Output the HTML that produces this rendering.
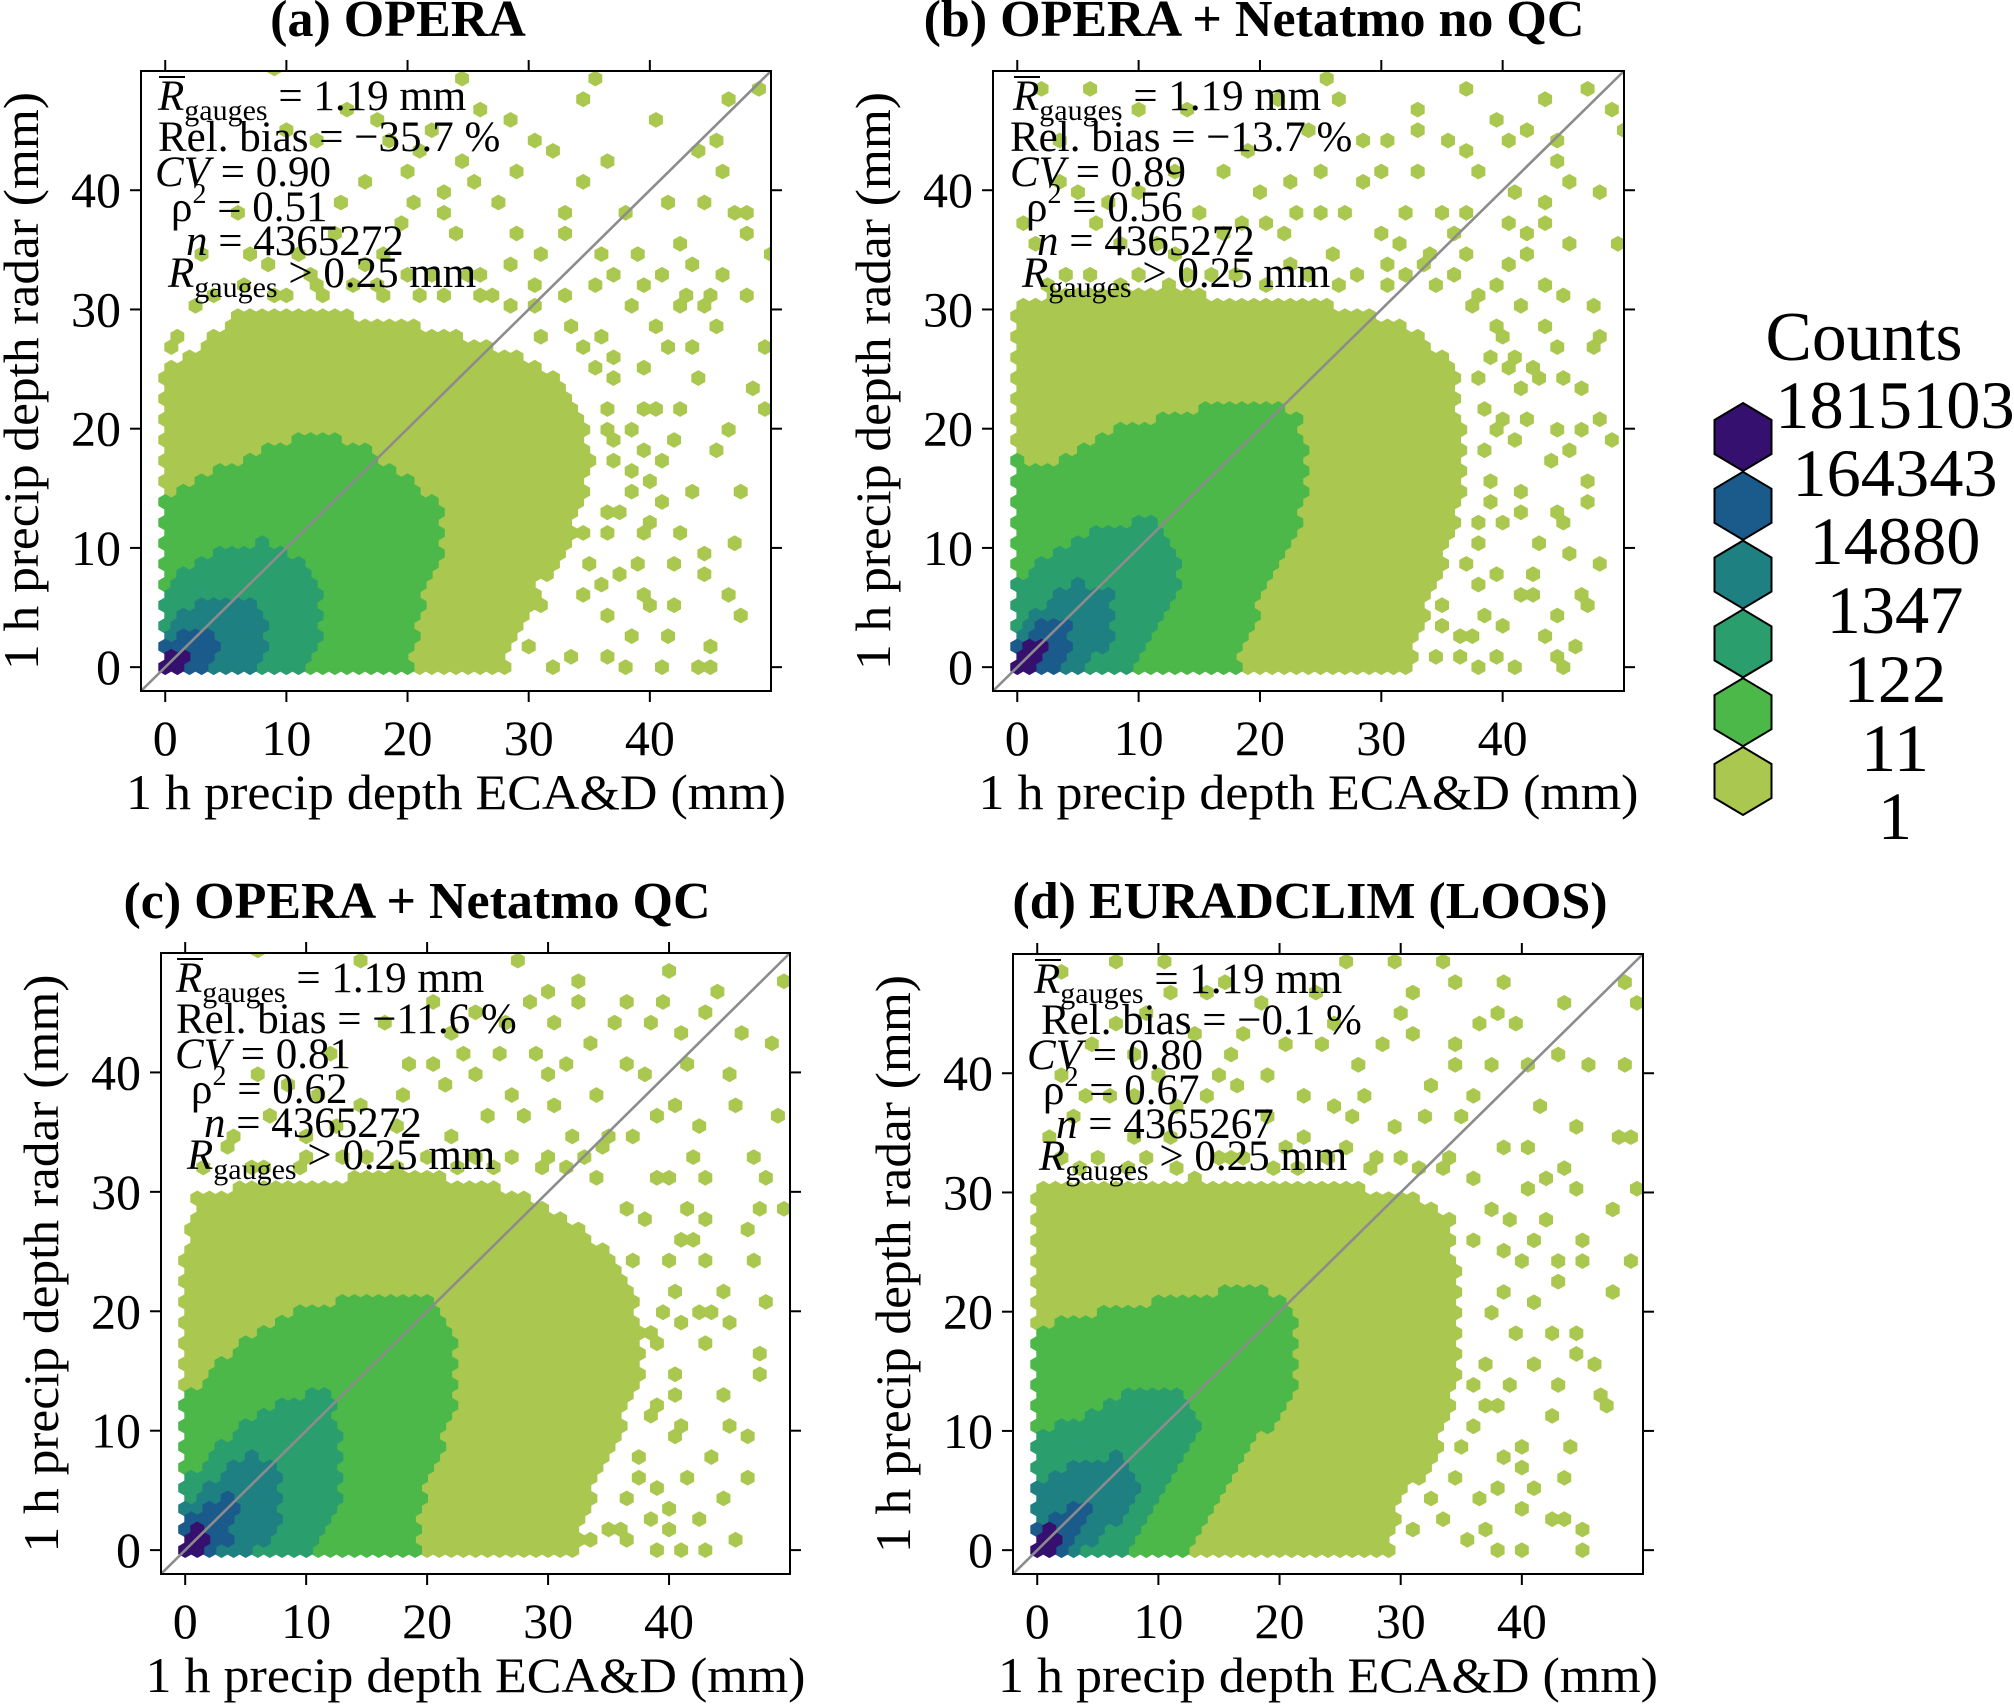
<!DOCTYPE html>
<html><head><meta charset="utf-8"><style>
html,body{margin:0;padding:0;background:#fff;}
svg{display:block;font-family:"Liberation Serif",serif;}
</style></head><body>
<svg id="fig" width="2014" height="1704" viewBox="0 0 2014 1704" xmlns="http://www.w3.org/2000/svg"></svg>
<script>
// ---------- data ----------
const xTicks=[0,10,20,30,40];
const yTicks=[0,10,20,30,40];
const levelColors=['#aac84f','#4cb84a','#2b9e6e','#1f8082','#1a5b8b','#35106e'];
const legendLabels=['1815103','164343','14880','1347','122','11','1'];

const titles=['(a) OPERA','(b) OPERA + Netatmo no QC','(c) OPERA + Netatmo QC','(d) EURADCLIM (LOOS)'];
const biasVals=['\u221235.7','\u221213.7','\u221211.6','\u22120.1'];
const cvVals=['0.90','0.89','0.81','0.80'];
const rhoVals=['0.51','0.56','0.62','0.67'];
const nVals=['4365272','4365272','4365272','4365267'];

// density level regions (data units), level 1..6
const regionsA=[
 [[-0.5,-0.5],[-0.5,25],[3,27],[6,30],[12,30],[18,29],[24,28],[29,26],[33,24],[35,20],[35,15],[33,10],[31,7],[29,3],[28,-0.5]],
 [[-0.5,-0.5],[-0.5,14],[3,16],[8,18],[13,20],[17,18],[21,15],[23,13],[23,10],[21,5],[20,-0.5]],
 [[-0.5,-0.5],[-0.5,6],[2,8.5],[5,10],[8,10.5],[11,9],[13,6],[13,3],[11.5,-0.5]],
 [[-0.5,-0.5],[-0.5,3],[2,5],[5,6.2],[8,5],[8.5,2],[7,-0.5]],
 [[-0.5,-0.5],[-0.5,1.5],[1.5,3],[4,2.5],[4.5,0.5],[3.5,-0.5]],
 [[-0.5,-0.5],[-0.5,1],[1.5,1],[1.8,-0.5]]
];
const regionsB=[
 [[-0.5,-0.5],[-0.5,31],[8,31.5],[20,31],[28,30],[33,28],[36,25],[37,15],[35,8],[33,3],[33,-0.5]],
 [[-0.5,-0.5],[-0.5,17.5],[3,17],[7,19.5],[14,21.5],[20,22.5],[23,21],[24,17],[23,12],[21,8],[19,3],[18,-0.5]],
 [[-0.5,-0.5],[-0.5,7],[3,9.5],[6,11.5],[11,12.5],[13,10],[13.5,6],[11,2],[9.5,-0.5]],
 [[-0.5,-0.5],[-0.5,3],[2,5],[5,7.3],[7.8,6],[7.5,2],[5,-0.5]],
 [[-0.5,-0.5],[-0.5,1.5],[2,3.8],[4.5,3.5],[4,0.5],[2.5,-0.5]],
 [[-0.5,-0.5],[-0.5,0.8],[1,1.8],[2.2,1.8],[1.8,-0.5]]
];
const regionsC=[
 [[-0.5,-0.5],[-0.5,22],[1,30],[10,31],[20,31.5],[28,30],[33,27],[37,22],[38,15],[35,8],[33,3],[33,-0.5]],
 [[-0.5,-0.5],[-0.5,12],[3,16],[8,19.5],[13,21],[20,21.5],[22,18],[22.5,12],[20,6],[19,-0.5]],
 [[-0.5,-0.5],[-0.5,5],[3,9],[7,12],[11.5,13.3],[13,10],[13,5],[11,1],[10,-0.5]],
 [[-0.5,-0.5],[-0.5,3],[2.5,6],[6,8.2],[7.8,6],[7.5,2],[5.5,-0.5]],
 [[-0.5,-0.5],[-0.5,2],[1.5,3.5],[3.5,4.4],[4.3,3],[3.5,0.5],[2.5,-0.5]],
 [[-0.5,-0.5],[-0.5,0.8],[1.2,2.2],[2.2,1.5],[1.5,-0.5]]
];
const regionsD=[
 [[-0.5,-0.5],[-0.5,31],[10,31],[20,31],[30,30],[34,28],[35,22],[35,15],[33,8],[30,4],[29,-0.5]],
 [[-0.5,-0.5],[-0.5,18.5],[4,19.7],[10,21],[18,22],[21.5,20],[21.5,13],[18,9],[15,4],[12.5,-0.5]],
 [[-0.5,-0.5],[-0.5,9],[3,11],[8,13.3],[12,13.3],[13.5,10.5],[12,7],[9,3],[7,-0.5]],
 [[-0.5,-0.5],[-0.5,5],[3,7],[7,8.2],[8.5,6],[7,3],[5,1],[3,-0.5]],
 [[-0.5,-0.5],[-0.5,1.5],[1.5,3],[4,4.6],[5,3.7],[3,1],[2,-0.5]],
 [[-0.5,-0.5],[-0.5,0.5],[0.8,2],[2,2],[1.5,0.5],[1,-0.5]]
];

// sparse single-count cells (x, y) in mm
const sparseA=[[24.5,49.4],[34.5,47.6],[35.4,49.4],[40.4,46],[46.3,47.6],[48.9,48.5],[45.5,44.2],[45.9,41.6],[47.8,38],[47.8,36.4],[49.7,34.6],[43.6,34],[45,31],[45.9,29],[49.5,27.2],[48.2,23.4],[49.7,21.8],[46.9,20],[47.6,14.7],[47.2,10.2],[44.6,9.3],[44.6,7.7],[46.3,6.1],[47.6,4.3],[45,1.7],[43.8,0],[45,0],[40,5.2],[38.9,8.8],[41.3,13.8],[42.5,11],[38.3,0],[41.1,0],[36.2,1],[37.5,7.7],[36.2,11],[38.7,16.5],[37,26.3],[39.6,31.7],[42.5,31.3],[30.3,44.3],[28.2,46],[24.6,42.5],[22.7,39.8],[20.2,41.6],[18.5,43.8],[16,41.1],[12.9,43.8],[9.2,49.9],[32.6,38],[34.5,41.1],[36.2,42.5],[38.3,38],[42.1,35.7],[41.3,38.9],[35.8,34.8],[44.6,38.9],[12,33],[16,34],[20,33],[25,33],[28,34],[24,36],[19,37],[14,36.5],[27,39],[31,35],[22,45],[26,47],[15,47],[10,45],[6,38],[3,35],[8,33.5],[33,31],[30,32],[38,20],[40,22],[42,19],[39,25],[41,27],[44,24],[43,15],[40,12],[37,13],[45,18],[36,28],[38,30],[41,33],[4,31],[1,28],[9,31.5],[15,32],[21,31.5],
 [30,2],[31,5],[32,0],[33,1],[30,7],[34,6],[32,9],[36,4],[35,17],[36,20],[37,24],[34,27],[31,28],[28,30],[27,31],[23,31],[18,31],[12,32],[6,32],[2,30],[0,27],[37,17],[39,18],[36,22],[38,15],[40,16],[42,22],[43,27],[44,30],[46,33],[48,31],[47,38],[44,43],[26,31],[30,30],[33,29],[35,25],[36,13],[34,11],[35,9],[39,6],[41,3],[42,9],
 [10,31],[13,31],[17,32],[22,33],[26,33],[29,36],[23,38],[18,35],[11,35],[7,35],[14,39],[20,39],[25,41],[29,42],[32,43],[21,43],[17,46],[33,36],[35,32],[37,33],[39,35],[40,29],[42,30],[39,22],[41,17],[37,19],[39,11],[38,3],[42,5],[36,7]];
const sparseB=[[36.9,48.6],[47,48.6],[49,46.9],[43.5,47.9],[33,46.9],[39.6,46],[42,45.2],[49.7,45.2],[44.3,42.6],[45.7,40.7],[48.4,39.5],[40.6,37.4],[43.6,37.4],[45.3,35.9],[49.4,35.5],[36.9,35],[42,34.7],[39.3,32.4],[45,31.2],[47.7,30.2],[43.6,28.8],[39.6,28.8],[47,26.9],[48.4,27.8],[41.3,26.1],[43.3,24],[46,23],[47.7,20.9],[49.4,19.2],[45.7,18.3],[40.6,19.2],[43.6,17.1],[47,15.7],[47,14],[44.3,12.6],[41.3,13],[45.7,9.5],[39.6,7.8],[37.9,6.8],[41.6,6.1],[42.6,6.1],[46.4,6.1],[44.7,4.4],[40,3.3],[43.6,2.7],[36.6,1],[38.2,0],[41,0],[44.7,1],[45,0],[36.9,2.7],[34.9,3.7],[29.8,5],[32.2,6.8],[26.4,47.7],[25.4,49.5],[21.4,47.7],[17.3,41.7],[22.7,41],[24.7,41.7],[20,40.2],[28.1,40.9],[29.5,41.2],[27.1,37.8],[29.5,36.7],[31.5,35.7],[33.2,41.5],[35.2,38.5],[38.2,41.2],[34.5,32.3],[23.4,38.5],[20.7,37.1],[18.3,37.1],[16.6,36.4],[12.9,34.3],[11.2,35.4],[6.5,37.1],[8.5,35.4],[0,37.1],[1.4,35.4],[2.4,48.1],[3.4,44.6],[6.1,48.1],[9.5,46.4],[13.6,47],[16.6,41.5],[38,22],[39,26],[38,12],[39,16],[37,30],[24,33],[28,33],[14,33],[4,33],
 [37,3],[38,4],[39,1],[37,9],[38,10],[39,8],[40,12],[41,15],[39,14],[38,18],[40,21],[41,23],[42,25],[40,28],[38,24],[39,29],[41,30],[43,32],[44,27],[45,24],[46,20],[44,20],[43,10],[42,8],[45,12],[46,2],[47,5],[48,9],[35,5],[34,1],[36,33],[33,34],[30,34],[26,35],[18,33],[10,33],[2,32],[5,40],[10,40],[13,42],[30,44],[33,45],[37,43],[40,44],[44,44],
 [6,33],[8,32],[12,32],[16,33],[20,32],[22,34],[26,32],[30,32],[32,33],[34,35],[36,36],[37,38],[32,38],[25,38],[22,36],[15,38],[7,39],[3,41],[19,43],[24,45],[28,44],[35,44],[41,40],[43,39],[42,36],[40,34],[38,31],[40,25],[42,21],[39,20]];
const sparseC=[[32.5,47.7],[40,48.5],[49.4,47.7],[44,46.8],[39.5,45.9],[38.4,44.2],[41,43.4],[46,43.4],[48.4,42.5],[35.4,44.4],[33.5,42.5],[30.5,44.2],[29.8,46.8],[27.5,49.4],[26.1,41.6],[28.5,41.6],[31.9,40.8],[37.9,39.9],[41.7,40.8],[44.7,39.8],[49.1,36.3],[45,37.4],[42.3,35.3],[46.7,32.9],[48.1,31.2],[47.7,28.8],[43,28.1],[46.4,26.7],[49.1,28.8],[42.7,24.3],[46.7,24.3],[47.7,21.2],[45,19.1],[42,19.8],[43,17.4],[47.4,16.4],[47.4,14.7],[40.6,14.3],[37.9,14.7],[45,10.5],[46.4,9.5],[40,9.9],[37.3,6.1],[41,6.1],[46.4,6.1],[44.4,4.4],[40.3,3.3],[45,0.9],[41,0],[38.6,0],[35.6,1.3],[33.5,0.6],[43.3,0],[5.8,50],[14.3,49.4],[18.3,40.8],[20.4,40.8],[22.4,42.9],[23.1,41.5],[21.4,39.1],[25.1,36.5],[27.1,38.4],[30.2,37],[31.9,34.3],[34.6,33.6],[37.3,34.3],[38.6,36.3],[17.7,35.6],[14.9,37],[12.3,35.3],[9.9,34.6],[7.2,36.3],[4.2,34.6],[1.5,32.2],[28.5,46.3],[26.8,44.6],[32.5,45.6],[39,20],[40,24],[38,28],[39,12],[24,33],[20,33],[30,33],[10,33],
 [38,3],[39,5],[37,8],[38,11],[40,13],[39,17],[41,19],[40,22],[42,26],[41,29],[39,31],[43,31],[44,22],[44,13],[43,8],[42,3],[36,4],[35,2],[38,18],[37,24],[36,29],[34,31],[31,32],[27,33],[22,32],[15,33],[6,32],[3,34],[8,39],[12,42],[16,44],[20,46],[24,45],[36,46],[43,45],
 [5,32],[9,32],[13,33],[17,32],[25,32],[29,32],[33,33],[35,35],[28,36],[22,35],[18,38],[11,38],[6,40],[24,40],[30,40],[34,38],[36,41],[40,37],[42,33],[40,31],[41,26],[43,20],[41,10],[36,1],[40,2]];
const sparseD=[[6.6,49.3],[10.3,49.3],[2.2,48.6],[25.5,49.3],[29.6,49.3],[33,49.3],[34.3,47.6],[38.3,47.6],[48.5,47.6],[43.8,45.9],[49.5,45.9],[30.9,46.9],[38,45.2],[34.6,42.5],[36.7,44.2],[40.4,40.8],[42.7,41.4],[45.4,40.8],[48.5,40.8],[44.4,35.6],[47.5,34.9],[49.2,34.9],[40.7,33.6],[43.7,32.2],[49.5,30.5],[47.5,28.7],[44.4,30.5],[41.4,26],[44.8,24.3],[49.1,24.3],[42.7,22.6],[47.8,21.9],[41,20.9],[44.1,18.1],[42.7,18.5],[44.8,16.7],[41,15.7],[42.7,14],[46.5,13.3],[47.1,12.3],[38,11.9],[35,8.9],[38,5.4],[40,6.8],[40,3.4],[42.7,2.7],[43.4,2.7],[45.1,2],[45.1,0],[40,0],[38,0],[35,1],[33.3,2.7],[36.7,2],[29.6,4],[31.6,6.1],[14.7,33],[17.1,33],[19.4,32],[16,32.9],[13.3,31.5],[23.5,32.9],[25.5,33.6],[28.2,32.9],[29.2,35.3],[31.6,36.3],[34,40.4],[21.5,38.4],[18.8,36.6],[16.7,38.7],[15.4,39.7],[13.7,38],[11.3,37],[7.9,37.7],[5.9,38.4],[3.2,36.3],[1.2,34.6],[2.2,32.5],[5.2,32.9],[9,32.9],[11.3,34.6],[20.1,42.1],[23.5,42.1],[26.5,40.4],[28.2,42.8],[18.8,45.6],[22.8,46.6],[13,43.5],[9.3,44.9],[4.6,42.5],[13.7,46.6],[15.7,48],[37,20],[38,25],[37,29],[36,14],
 [36,4],[34,6],[32,4],[31,2],[36,10],[37,16],[39,18],[38,22],[40,24],[39,28],[36,31],[33,32],[38,34],[40,30],[42,28],[43,24],[42,11],[40,9],[43,6],[44,9],[46,16],[45,26],[30,33],[26,36],[22,35],[20,34],[8,35],[2,40],[6,44],[11,47],[17,43],[24,44],[31,43],[36,38],[39,44],
 [3,32],[7,32],[11,32],[21,32],[27,32],[31,32],[34,33],[35,36],[32,39],[27,38],[24,37],[19,40],[10,40],[4,38],[8,42],[16,42],[30,45],[37,41],[41,37],[42,31],[36,26],[37,12],[39,14],[38,8],[41,5]];

const regionsAll=[regionsA,regionsB,regionsC,regionsD];
const sparseAll=[sparseA,sparseB,sparseC,sparseD];

// ---------- layout ----------
const panels=[
 {L:141,R:771,T:71,B:691,tx:398,ty:36,ann:[17,17,14,30,45,27]},
 {L:993,R:1624,T:71,B:691,tx:1254,ty:36,ann:[20,17,17,33,44,29]},
 {L:161,R:790,T:953,B:1574,tx:417,ty:918,ann:[15,15,14,30,43,26]},
 {L:1013,R:1643,T:954,B:1574,tx:1310,ty:918,ann:[21,28,14,30,43,26]}
];
const panelIds=['a','b','c','d'];
const DMIN=-2, DMAX=50;
const HEXSCALE=1.15;
const NS='http://www.w3.org/2000/svg';
const svg=document.getElementById('fig');
function mk(tag,attrs,parent){const e=document.createElementNS(NS,tag);for(const k in attrs)e.setAttribute(k,attrs[k]);(parent||svg).appendChild(e);return e;}
function inPoly(x,y,poly){let c=false;for(let i=0,j=poly.length-1;i<poly.length;j=i++){const xi=poly[i][0],yi=poly[i][1],xj=poly[j][0],yj=poly[j][1];if(((yi>y)!==(yj>y))&&(x<(xj-xi)*(y-yi)/(yj-yi)+xi))c=!c;}return c;}

const defs=mk('defs',{});
const ROW=Math.sqrt(3)/2, RV=1/Math.sqrt(3);

panels.forEach((p,pi)=>{
  const g=mk('g',{});
  
  
  const X=v=>p.L+(v-DMIN)*(p.R-p.L)/(DMAX-DMIN);
  const Y=v=>p.B-(v-DMIN)*(p.B-p.T)/(DMAX-DMIN);
  const cp=mk('clipPath',{id:'clip'+pi},defs);
  mk('rect',{x:p.L,y:p.T,width:p.R-p.L,height:p.B-p.T},cp);
  const hg=mk('g',{'clip-path':'url(#clip'+pi+')'},g);
  
  
  const regions=regionsAll[pi];
  const cells={};
  for(let j=0;j*ROW<=50.5;j++){
    const off=(j%2)*0.5;
    for(let i=0;i+off<=50.5;i++){
      const cx=i+off, cy=j*ROW;
      let lev=0;
      for(let k=0;k<regions.length;k++){ if(inPoly(cx,cy,regions[k])) lev=k+1; }
      if(lev>0) cells[j+'_'+i]=[cx,cy,lev];
    }
  }
  sparseAll[pi].forEach(pt=>{
    const j=Math.max(0,Math.round(pt[1]/ROW));const off=(j%2)*0.5;
    const i=Math.max(0,Math.round(pt[0]-off));const key=j+'_'+i;
    if(!cells[key]) cells[key]=[i+off,j*ROW,1];
  });
  const ux=(p.R-p.L)/(DMAX-DMIN), uy=(p.B-p.T)/(DMAX-DMIN);
  const list=Object.values(cells).sort((a,b)=>a[2]-b[2]);
  list.forEach(c=>{
    const px=X(c[0]),py=Y(c[1]);
    const hw=0.5*ux*HEXSCALE, hv=RV*uy*HEXSCALE, hs=RV*0.5*uy*HEXSCALE;
    const pts=[[px,py-hv],[px+hw,py-hs],[px+hw,py+hs],[px,py+hv],[px-hw,py+hs],[px-hw,py-hs]].map(q=>q[0].toFixed(1)+','+q[1].toFixed(1)).join(' ');
    const col=levelColors[c[2]-1];
    const h=mk('polygon',{points:pts,fill:col},hg);
    
    
  });
  const dl=mk('line',{x1:X(DMIN),y1:Y(DMIN),x2:X(DMAX),y2:Y(DMAX),stroke:'#8c8c8c','stroke-width':2.6},g);
  
  
  const fr=mk('rect',{x:p.L,y:p.T,width:p.R-p.L,height:p.B-p.T,fill:'none',stroke:'#000','stroke-width':2},g);
  
  
  xTicks.forEach(t=>{
    const x=X(t);
    mk('line',{x1:x,y1:p.B,x2:x,y2:p.B+11,stroke:'#000','stroke-width':2},g);
    mk('line',{x1:x,y1:p.T,x2:x,y2:p.T-11,stroke:'#000','stroke-width':2},g);
    const tl=mk('text',{x:x,y:p.B+64,'font-size':50,'text-anchor':'middle'},g);
    tl.textContent=t;
    
    
  });
  yTicks.forEach(t=>{
    const y=Y(t);
    mk('line',{x1:p.L,y1:y,x2:p.L-11,y2:y,stroke:'#000','stroke-width':2},g);
    mk('line',{x1:p.R,y1:y,x2:p.R+11,y2:y,stroke:'#000','stroke-width':2},g);
    const tl=mk('text',{x:p.L-20,y:y+17,'font-size':50,'text-anchor':'end'},g);
    tl.textContent=t;
    
    
  });
  const xl=mk('text',{x:(p.L+p.R)/2,y:p.B+118,'font-size':50,'text-anchor':'middle',textLength:660,lengthAdjust:'spacingAndGlyphs'},g);
  xl.textContent='1 h precip depth ECA&D (mm)';
  
  
  const yc=(p.T+p.B)/2, yx=p.L-103;
  const yl=mk('text',{x:yx,y:yc,'font-size':50,'text-anchor':'middle',transform:'rotate(-90 '+yx+' '+yc+')',textLength:578,lengthAdjust:'spacingAndGlyphs'},g);
  yl.textContent='1 h precip depth radar (mm)';
  
  
  const tt=mk('text',{x:p.tx,y:p.ty,'font-size':52,'font-weight':'bold','text-anchor':'middle'},g);
  tt.textContent=titles[pi];
  
  
  const ag=mk('g',{'font-size':43},g);
  
  
  const bl=[39,80,115,150,184,216].map(v=>p.T+v);
  const a=p.ann;
  ag.innerHTML=
   '<text x="'+(p.L+a[0])+'" y="'+bl[0]+'"><tspan font-style="italic">R</tspan><tspan font-size="30" dy="10">gauges</tspan><tspan dy="-10"> = 1.19 mm</tspan></text>'+
   '<line x1="'+(p.L+a[0]+1)+'" y1="'+(bl[0]-33)+'" x2="'+(p.L+a[0]+27)+'" y2="'+(bl[0]-33)+'" stroke="#000" stroke-width="2"/>'+
   '<text x="'+(p.L+a[1])+'" y="'+bl[1]+'">Rel. bias = '+biasVals[pi]+' %</text>'+
   '<text x="'+(p.L+a[2])+'" y="'+bl[2]+'"><tspan font-style="italic">CV</tspan> = '+cvVals[pi]+'</text>'+
   '<text x="'+(p.L+a[3])+'" y="'+bl[3]+'">\u03c1<tspan font-size="28" dy="-18">2</tspan><tspan dy="18"> = '+rhoVals[pi]+'</tspan></text>'+
   '<text x="'+(p.L+a[4])+'" y="'+bl[4]+'"><tspan font-style="italic">n</tspan> = '+nVals[pi]+'</text>'+
   '<text x="'+(p.L+a[5])+'" y="'+bl[5]+'"><tspan font-style="italic">R</tspan><tspan font-size="30" dy="10">gauges</tspan><tspan dy="-10"> &gt; 0.25 mm</tspan></text>';
});

// ---------- legend ----------
const lg=mk('g',{});


const lt=mk('text',{x:1864,y:360,'font-size':70,'text-anchor':'middle',textLength:197,lengthAdjust:'spacingAndGlyphs'},lg);
lt.textContent='Counts';


const legendBaselines=[428,496,564,633,702,771,839];
legendLabels.forEach((s,i)=>{
  const t=mk('text',{x:1895,y:legendBaselines[i],'font-size':68,'text-anchor':'middle',textLength:s.length*34.2,lengthAdjust:'spacingAndGlyphs'},lg);
  t.textContent=s;
  
  
});
const legendLevels=[6,5,4,3,2,1];
legendLevels.forEach((lev,i)=>{
  const cx=1743, cy=437+i*68.8;
  const pts=[[cx,cy-34],[cx+28.5,cy-17],[cx+28.5,cy+17],[cx,cy+34],[cx-28.5,cy+17],[cx-28.5,cy-17]].map(q=>q.join(',')).join(' ');
  const h=mk('polygon',{points:pts,fill:levelColors[lev-1],stroke:'#000','stroke-width':2},lg);
  
  
});
</script>
</body></html>
